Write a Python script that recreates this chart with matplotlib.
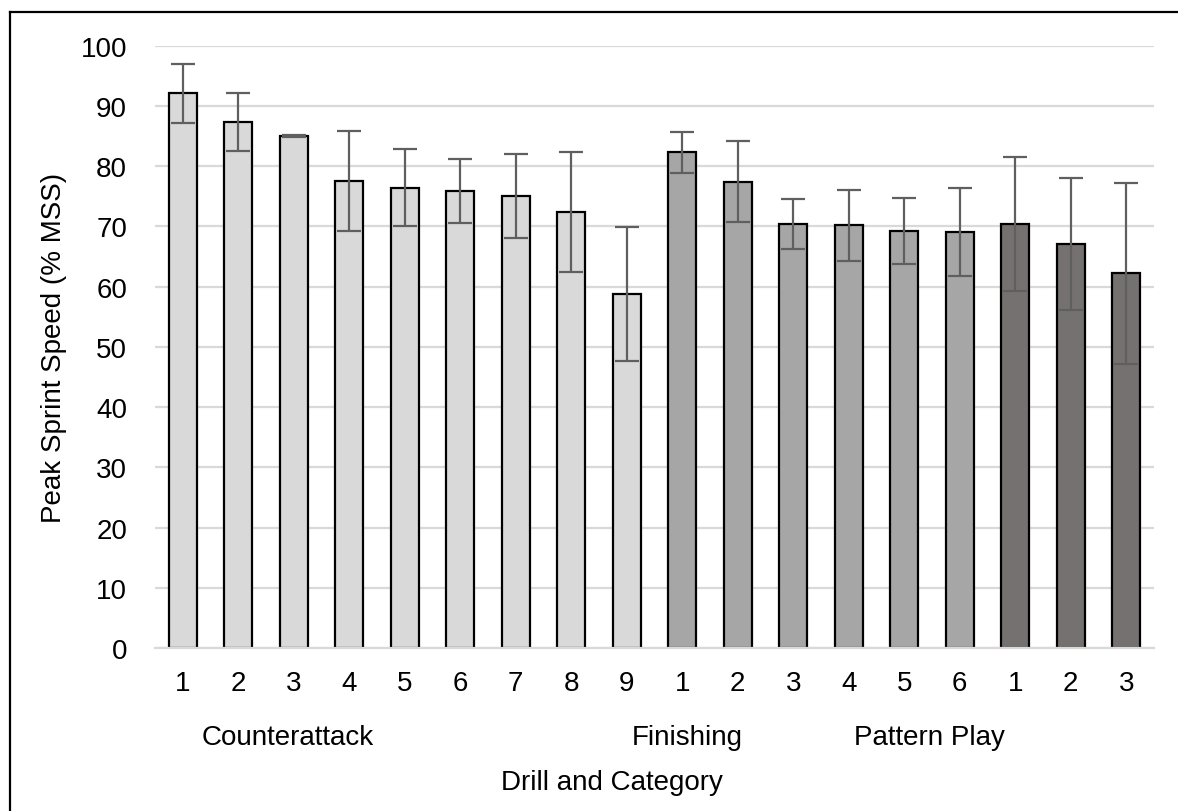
import numpy as np
import matplotlib.pyplot as plt
from matplotlib.transforms import blended_transform_factory
from matplotlib.lines import Line2D

plt.rcParams['font.family'] = ['Liberation Sans', 'DejaVu Sans']
plt.rcParams['font.size'] = 20

# drill numbers within each category
drill_labels = ['1', '2', '3', '4', '5', '6', '7', '8', '9',
                '1', '2', '3', '4', '5', '6',
                '1', '2', '3']
# peak sprint speed (% MSS), mean and SD
means = [92.1, 87.3, 85.0, 77.6, 76.4, 75.9, 75.0, 72.4, 58.8,
         82.3, 77.4, 70.4, 70.2, 69.2, 69.1,
         70.4, 67.1, 62.2]
sds = [4.9, 4.8, 0.1, 8.3, 6.4, 5.3, 7.0, 9.9, 11.1,
       3.4, 6.7, 4.1, 5.9, 5.5, 7.3,
       11.1, 11.0, 15.0]
categories = ['Counterattack', 'Finishing', 'Pattern Play']
cat_sizes = [9, 6, 3]
cat_colors = ['#D9D9D9', '#A6A6A6', '#767171']

colors = []
for c, n in zip(cat_colors, cat_sizes):
    colors += [c] * n

fig = plt.figure(figsize=(11.78, 8.12), dpi=100)
ax = fig.add_axes([155/1178, 1 - 649/812, 999/1178, 602.3/812])

x = np.arange(len(means))
ax.bar(x, means, width=0.51, color=colors, edgecolor='black', linewidth=1.6, zorder=2)
ax.errorbar(x, means, yerr=sds, fmt='none', ecolor='#5F5F5F', elinewidth=1.6,
            capsize=8.6, capthick=1.6, zorder=3)

ax.set_xlim(-0.5, len(means) - 0.5)
ax.set_ylim(0, 100)
ax.set_yticks(np.arange(0, 101, 10))
ax.set_xticks(x)
ax.set_xticklabels(drill_labels)
ax.tick_params(axis='both', length=0)
ax.tick_params(axis='x', pad=16)
ax.tick_params(axis='y', pad=20)
ax.yaxis.grid(True, color='#D9D9D9', linewidth=1.6, zorder=0)
ax.set_axisbelow(True)
for s in ['top', 'right', 'left']:
    ax.spines[s].set_visible(False)
ax.spines['bottom'].set_color('#D9D9D9')
ax.spines['bottom'].set_linewidth(1.6)

ax.set_ylabel('Peak Sprint Speed (% MSS)')
ax.yaxis.set_label_coords((67 - 155) / 999, 0.5)

# category labels below the drill numbers (positions as in the original)
trans = blended_transform_factory(ax.transData, ax.transAxes)
cat_x = [1.9, 9.09, 13.46]
for name, cx in zip(categories, cat_x):
    ax.text(cx, -0.148, name, transform=trans, ha='center', va='center')
ax.text(7.74, -0.2226, 'Drill and Category', transform=trans, ha='center', va='center')

# chart frame (cut off at right and bottom)
fig.add_artist(Line2D([10/1178, 10/1178], [-0.1, 1 - 13/812], color='black',
                      linewidth=1.6, transform=fig.transFigure))
fig.add_artist(Line2D([10/1178, 1.1], [1 - 13/812, 1 - 13/812], color='black',
                      linewidth=1.6, transform=fig.transFigure))

fig.savefig('out.png', dpi=100)
